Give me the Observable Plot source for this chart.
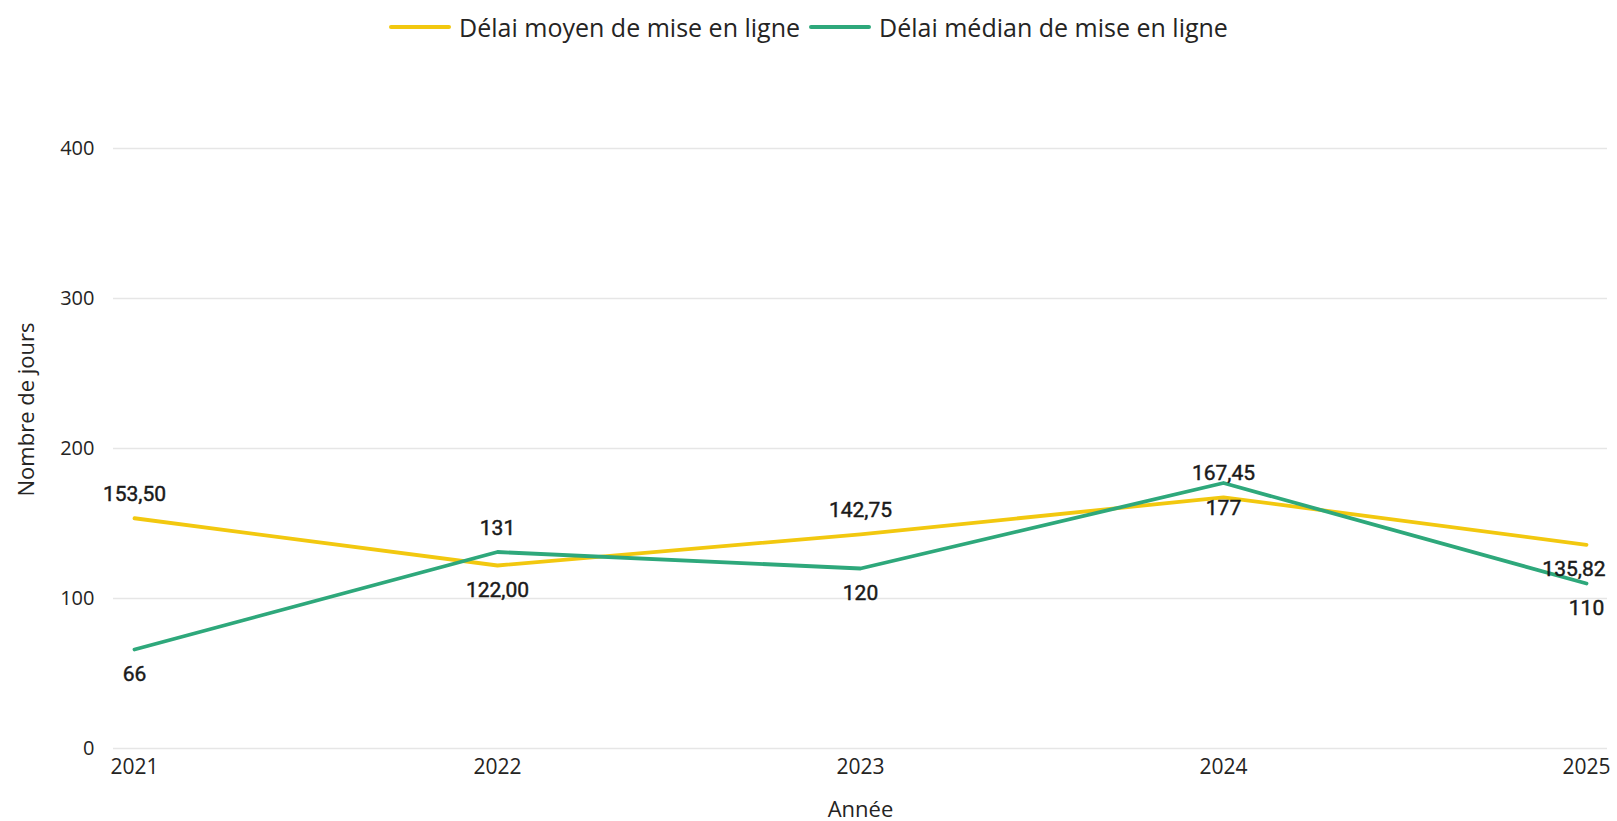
<!DOCTYPE html>
<html>
<head>
<meta charset="utf-8">
<script src="https://cdn.jsdelivr.net/npm/d3@7"></script>
<script src="https://cdn.jsdelivr.net/npm/@observablehq/plot@0.6"></script>
<style>
  html, body { margin: 0; padding: 0; background: #fff; }
  #legend { height: 54px; display: flex; justify-content: center; align-items: center; font-family: "Open Sans", sans-serif; font-size: 25px; color: #252423; gap: 9px; }
  .item { display: flex; align-items: center; gap: 8px; }
  .sw { width: 62px; height: 4px; border-radius: 2px; }
</style>
</head>
<body>
<div id="legend"></div>
<div id="chart"></div>
<script>
const years = ["2021", "2022", "2023", "2024", "2025"];
const seriesNames = ["Délai moyen de mise en ligne", "Délai médian de mise en ligne"];
const seriesColors = ["#F2C80F", "#2EA87B"];
const moyen = [153.50, 122.00, 142.75, 167.45, 135.82];
const median = [66, 131, 120, 177, 110];
const moyenLabelSide = ["above", "below", "above", "above", "below"];
const medianLabelSide = ["below", "above", "below", "below", "below"];
const yTicks = [0, 100, 200, 300, 400];

const frNum2 = v => d3.format(".2f")(v).replace(".", ",");
const frInt = v => d3.format("d")(v);

const rows = [];
years.forEach((y, i) => {
  rows.push({year: y, value: moyen[i], series: seriesNames[0], side: moyenLabelSide[i], label: frNum2(moyen[i]), last: i === years.length - 1});
  rows.push({year: y, value: median[i], series: seriesNames[1], side: medianLabelSide[i], label: frInt(median[i]), last: i === years.length - 1});
});

// Legend
const legend = document.getElementById("legend");
seriesNames.forEach((n, i) => {
  const it = document.createElement("div");
  it.className = "item";
  const sw = document.createElement("div");
  sw.className = "sw";
  sw.style.background = seriesColors[i];
  const t = document.createElement("span");
  t.textContent = n;
  it.appendChild(sw); it.appendChild(t);
  legend.appendChild(it);
});

const labelFont = {fontFamily: "Roboto, sans-serif", fontSize: 21, fontWeight: 400, fill: "#1a1a1a", stroke: "#1a1a1a", strokeWidth: 0.45};
const normal = d => !(d.last && d.series === seriesNames[0]);

const chart = Plot.plot({
  width: 1617,
  height: 767,
  marginTop: 94,
  marginBottom: 73,
  marginLeft: 113,
  marginRight: 10,
  style: {fontFamily: "Open Sans, sans-serif", fontSize: "20px", color: "#252423", background: "#fff"},
  x: {type: "point", domain: years, padding: 0.055, label: null},
  y: {domain: [0, 400], label: null},
  color: {domain: seriesNames, range: seriesColors},
  marks: [
    Plot.ruleY(yTicks, {stroke: "#E6E6E6", strokeWidth: 1.5}),
    Plot.axisY(yTicks, {tickSize: 0, tickPadding: 19, fontSize: 20, label: null}),
    Plot.axisX(years, {tickSize: 0, tickPadding: 11, fontSize: 21, label: null}),
    Plot.text(["Nombre de jours"], {frameAnchor: "left", textAnchor: "middle", rotate: -90, dx: -87, dy: -39, fontSize: 22}),
    Plot.text(["Année"], {frameAnchor: "bottom", dy: 68, fontSize: 22}),
    Plot.line(rows, {x: "year", y: "value", stroke: "series", strokeWidth: 3.8, strokeLinecap: "round", strokeLinejoin: "round"}),
    Plot.text(rows.filter(d => d.side === "above" && normal(d)), {x: "year", y: "value", text: "label", dy: -24, ...labelFont}),
    Plot.text(rows.filter(d => d.side === "below" && normal(d)), {x: "year", y: "value", text: "label", dy: 25, ...labelFont}),
    Plot.text(rows.filter(d => !normal(d)), {x: "year", y: "value", text: "label", dy: 24, dx: 19, textAnchor: "end", ...labelFont})
  ]
});
document.getElementById("chart").appendChild(chart);
</script>
</body>
</html>
